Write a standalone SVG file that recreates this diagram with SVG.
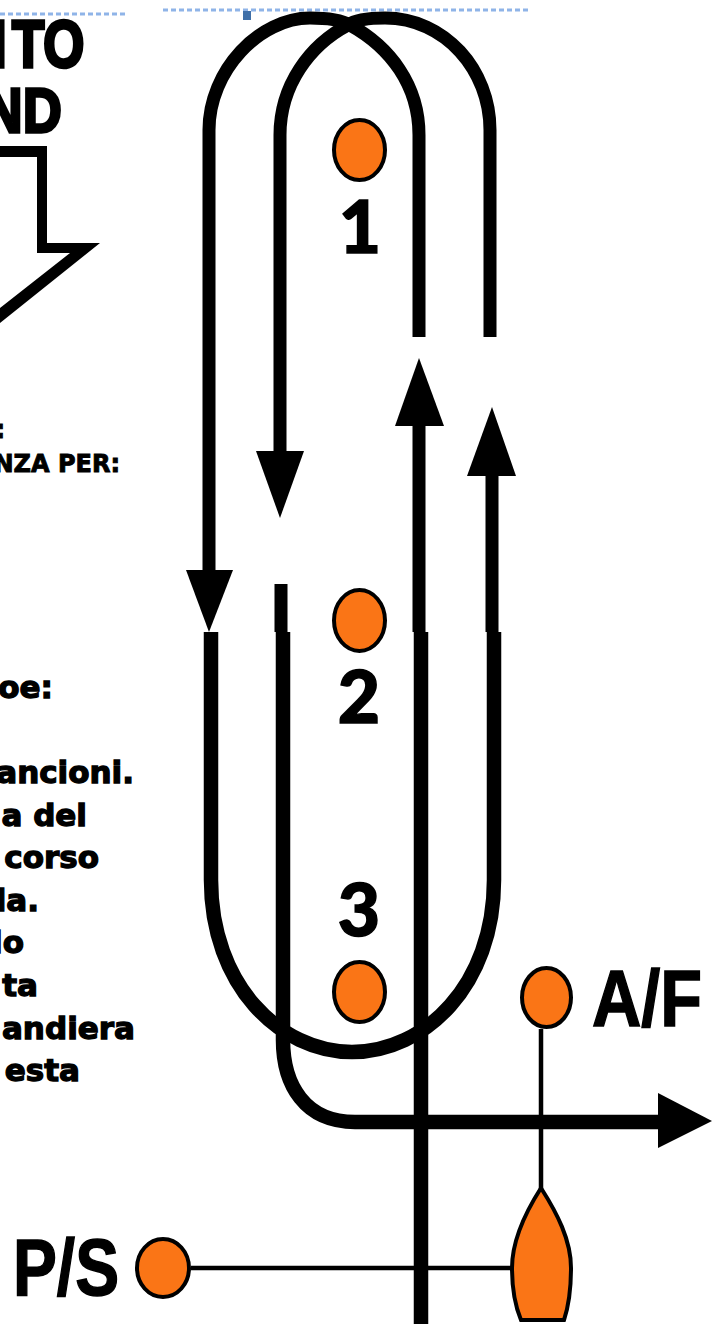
<svg xmlns="http://www.w3.org/2000/svg" width="712" height="1324" viewBox="0 0 712 1324">
<style>
.track{fill:none;stroke:#000;stroke-width:13}
.wide{fill:none;stroke:#000;stroke-width:14.5}
.thin{fill:none;stroke:#000;stroke-width:4.5}
.head{fill:#000}
.buoy{fill:#fa7516;stroke:#000;stroke-width:4}
.num{font-family:Lato,"Open Sans",sans-serif;font-weight:900;font-size:73px;fill:#000;text-anchor:middle;stroke:#000;stroke-width:1.5}
.big{font-family:"Liberation Sans",Arial,sans-serif;font-weight:700;fill:#000;stroke:#000;stroke-width:1.5}
.body{font-family:"DejaVu Sans",sans-serif;font-weight:700;font-size:31px;fill:#000;text-anchor:end;stroke:#000;stroke-width:1.3}
.small{font-size:24px;stroke-width:.9}
.guide{stroke:#8fb4e8;stroke-width:3;stroke-dasharray:5 3;fill:none}
</style>
<rect width="712" height="1324" fill="#fff"/>
<g id="guides">
<path class="guide" d="M0 14H128M163 10H530"/>
<rect x="243" y="11" width="8" height="9" fill="#3f6fa8"/>
</g>
<g id="wind-label">
<text class="big" transform="translate(0,67) scale(.8,1)" x="-10 15 54" y="0" font-size="66" style="stroke-width:3.500">ITO</text>
<text class="big" transform="translate(0,132) scale(.85,1)" x="-19 27" y="0" font-size="63" style="stroke-width:3.500">ND</text>
<polygon points="0,146 47,146 47,243 100,243 0,323 0,308 70,253 37,253 37,157 0,157" fill="#000"/>
</g>
<g id="text-left">
<text class="body small" x="5" y="438">:</text>
<text class="body small" x="120" y="472">NZA PER:</text>
<text class="body" x="53" y="698">oe:</text>
<text class="body" x="134" y="783">ancioni.</text>
<text class="body" x="87" y="826">a del</text>
<text class="body" x="99" y="868">corso</text>
<text class="body" x="39" y="911">la.</text>
<text class="body" x="24" y="953">lo</text>
<text class="body" x="38" y="996">ta</text>
<text class="body" x="135" y="1039">andiera</text>
<text class="body" x="80" y="1081">esta</text>
</g>
<g id="connectors">
<path class="track" d="M209 575V130C209 70 260 18 310 18C330 18 343 21 350 25C390 47 419 85 419 135V337"/>
<path class="track" d="M280 455V135C280 85 310 45 348 25C355 20 370 18 385 18C445 18 490 70 490 130V337"/>
<path class="wide" d="M211 632V880C211 985 280 1052 352 1052C425 1052 494 985 494 880V632"/>
<path class="track" d="M281 584V632M419 420V632M492 470V632"/>
<path class="wide" d="M283 632V1040C283 1085 305 1122 355 1122H670"/>
<path class="wide" d="M421 632V1324"/>
<path class="thin" d="M541 1029V1192M191 1268H514"/>
<polygon class="head" points="186,570 233,570 209,632"/>
<polygon class="head" points="256,451 304,451 280,518"/>
<polygon class="head" points="395,426 444,426 419,358"/>
<polygon class="head" points="467,476 516,476 492,407"/>
<polygon class="head" points="658,1093 658,1148 712,1121"/>
</g>
<g id="mark-1"><ellipse class="buoy" cx="359.500" cy="150" rx="25.500" ry="30"/><text class="num" x="360" y="253">1</text></g>
<g id="mark-2"><ellipse class="buoy" cx="359.500" cy="620.500" rx="25.500" ry="30.500"/><text class="num" x="359" y="723">2</text></g>
<g id="mark-3"><ellipse class="buoy" cx="359.500" cy="992" rx="25.500" ry="30"/><text class="num" x="359" y="936">3</text></g>
<g id="mark-af"><ellipse class="buoy" cx="546.500" cy="997.500" rx="24.500" ry="29.500"/><text class="big" x="592" y="1026" font-size="80" textLength="110" lengthAdjust="spacingAndGlyphs">A/F</text></g>
<g id="mark-ps"><ellipse class="buoy" cx="163" cy="1268" rx="26" ry="29"/><text class="big" x="13" y="1295" font-size="80" textLength="106" lengthAdjust="spacingAndGlyphs">P/S</text></g>
<g id="boat"><path d="M541 1188C525 1213 512 1240 512 1268C512 1290 516 1308 521 1320H564C568 1308 571 1290 571 1268C571 1240 557 1213 541 1188Z" fill="#fa7516" stroke="#000" stroke-width="4"/></g>
</svg>
